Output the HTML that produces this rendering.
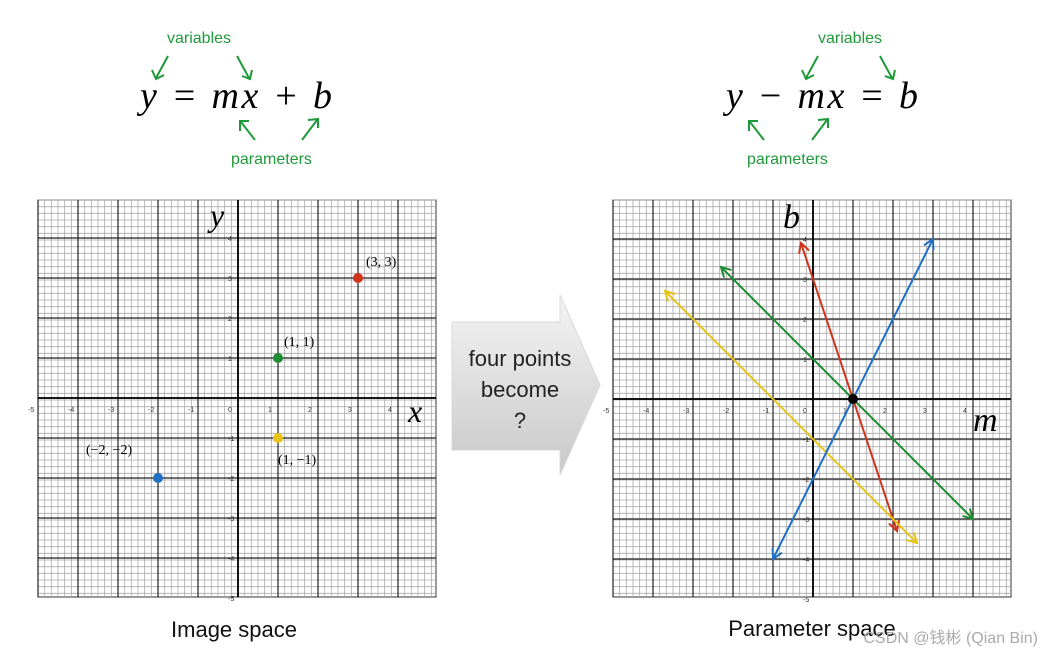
<!DOCTYPE html>
<html><head><meta charset="utf-8"><style>
body{margin:0;background:#fff;width:1053px;height:657px;overflow:hidden;font-family:"Liberation Sans",sans-serif}
svg{position:absolute;left:0;top:0}
</style></head><body>
<svg width="1053" height="657">
<defs>
<linearGradient id="ag" x1="0" y1="0" x2="0" y2="1"><stop offset="0" stop-color="#f4f4f4"/><stop offset="1" stop-color="#c8c8c8"/></linearGradient>
</defs>
<g id="top" font-family="Liberation Serif, serif">
<text x="140" y="108" font-size="38" font-style="italic" letter-spacing="2.5">y = mx + b</text>
<text x="726" y="108" font-size="38" font-style="italic" letter-spacing="2.5">y − mx = b</text>
</g>
<g fill="#1f9a3a" font-size="16" font-family="Liberation Sans, sans-serif">
<text x="167" y="43">variables</text>
<text x="231" y="164">parameters</text>
<text x="818" y="43">variables</text>
<text x="747" y="164">parameters</text>
</g>
<g stroke="#1f9a3a" stroke-width="2" fill="none">
<path d="M168,56 L156,78 M152,70 L156,79 L164,75"/>
<path d="M237,56 L249,78 M242,76 L250,79 L252,70"/>
<path d="M255,140 L241,122 M240,131 L240,121 L249,121"/>
<path d="M302,140 L317,120 M308,120 L318,119 L318,128"/>
<path d="M818,56 L806,78 M802,70 L806,79 L814,75"/>
<path d="M880,56 L892,78 M885,76 L893,79 L895,70"/>
<path d="M764,140 L750,122 M749,131 L749,121 L758,121"/>
<path d="M812,140 L827,120 M818,120 L828,119 L828,128"/>
</g>
<path d="M452,322 H560 V295 L600,385 L560,475 V450 H452 Z" fill="url(#ag)" stroke="#d8d8d8"/>
<text font-size="22" text-anchor="middle" fill="#222"><tspan x="520" y="366">four points</tspan><tspan x="520" y="397">become</tspan><tspan x="520" y="428">?</tspan></text>
<g id="left"></g>
<g id="right"></g>
<text x="234" y="637" font-size="22" text-anchor="middle" fill="#111">Image space</text>
<text x="812" y="636" font-size="22" text-anchor="middle" fill="#111">Parameter space</text>
<text x="1038" y="643" font-size="16" text-anchor="end" fill="#aaa" font-family="Liberation Sans, Noto Sans CJK SC, sans-serif">CSDN @钱彬 (Qian Bin)</text>
</svg>
<script>
const pointsX=[3,1,1,-2];
const pointsY=[3,1,-1,-2];
const pointLabels=["(3, 3)","(1, 1)","(1, −1)","(−2, −2)"];
const colors=["#d0341c","#1e8c33","#e8c419","#1f6fc4"];
const lineM0=[-0.3,-2.3,-3.7,-1];
const lineM1=[2.1,4,2.6,3];
const ticks=[-5,-4,-3,-2,-1,0,1,2,3,4];
const NS="http://www.w3.org/2000/svg";
function mk(p,t,a){const e=document.createElementNS(NS,t);for(const k in a)e.setAttribute(k,a[k]);p.appendChild(e);return e;}
function grid(g,L,T,ox,oy){
 const U=40;
 const sx=v=>ox+v*U, sy=v=>oy-v*U;
 mk(g,'rect',{x:L,y:T,width:398,height:397,fill:'#fff',stroke:'#333'});
 for(let p=L;p<=L+398;p+=U/6){mk(g,'line',{x1:p,y1:T,x2:p,y2:T+397,stroke:'#aaa','stroke-width':0.8});}
 for(let p=T;p<=T+397;p+=U/6){mk(g,'line',{x1:L,y1:p,x2:L+398,y2:p,stroke:'#aaa','stroke-width':0.8});}
 for(let v=-6;v<=6;v++){const x=sx(v),y=sy(v);
  if(x>=L&&x<=L+398)mk(g,'line',{x1:x,y1:T,x2:x,y2:T+397,stroke:'#222','stroke-width':1.2});
  if(y>=T&&y<=T+397)mk(g,'line',{x1:L,y1:y,x2:L+398,y2:y,stroke:'#222','stroke-width':1.2});}
 mk(g,'line',{x1:L,y1:oy,x2:L+398,y2:oy,stroke:'#000','stroke-width':1.8});
 mk(g,'line',{x1:ox,y1:T,x2:ox,y2:T+397,stroke:'#000','stroke-width':1.8});
 ticks.forEach(v=>{const t=mk(g,'text',{x:sx(v)-10,y:oy+14,'font-size':7,fill:'#333'});t.textContent=v;
  if(v!==0){const u=mk(g,'text',{x:ox-10,y:sy(v)+3,'font-size':7,fill:'#333'});u.textContent=v;}});
 return [sx,sy];
}
const lg=document.getElementById('left');
const [lx,ly]=grid(lg,38,200,238,398);
let t=mk(lg,'text',{x:210,y:226,'font-size':32,'font-style':'italic','font-family':'Liberation Serif, serif'});t.textContent='y';
t=mk(lg,'text',{x:408,y:422,'font-size':32,'font-style':'italic','font-family':'Liberation Serif, serif'});t.textContent='x';
const lblOff=[[8,-12],[6,-12],[0,26],[-72,-24]];
pointsX.forEach((x,i)=>{
 const c=mk(lg,'circle',{cx:lx(x),cy:ly(pointsY[i]),r:5,fill:colors[i]});
 
 
 const tx=mk(lg,'text',{x:lx(x)+lblOff[i][0],y:ly(pointsY[i])+lblOff[i][1],'font-size':14,'font-family':'Liberation Serif, serif'});
 tx.textContent=pointLabels[i];
});
const rg=document.getElementById('right');
const [rx,ry]=grid(rg,613,200,813,399);
t=mk(rg,'text',{x:783,y:228,'font-size':34,'font-style':'italic','font-family':'Liberation Serif, serif'});t.textContent='b';
t=mk(rg,'text',{x:973,y:431,'font-size':34,'font-style':'italic','font-family':'Liberation Serif, serif'});t.textContent='m';
function head(g,x1,y1,x2,y2,c){const a=Math.atan2(y2-y1,x2-x1),L=11;
 mk(g,'path',{d:`M${x2-L*Math.cos(a-0.5)},${y2-L*Math.sin(a-0.5)} L${x2},${y2} L${x2-L*Math.cos(a+0.5)},${y2-L*Math.sin(a+0.5)}`,stroke:c,'stroke-width':2,fill:'none'});}
pointsX.forEach((x,i)=>{
 const y=pointsY[i];
 const b=m=>-x*m+y;
 const X1=rx(lineM0[i]),Y1=ry(b(lineM0[i])),X2=rx(lineM1[i]),Y2=ry(b(lineM1[i]));
 const l=mk(rg,'line',{x1:X1,y1:Y1,x2:X2,y2:Y2,stroke:colors[i],'stroke-width':2});
 
 
 head(rg,X2,Y2,X1,Y1,colors[i]);head(rg,X1,Y1,X2,Y2,colors[i]);
});
const d=mk(rg,'circle',{cx:rx(1),cy:ry(0),r:5,fill:'#000'});


</script>
</body></html>
